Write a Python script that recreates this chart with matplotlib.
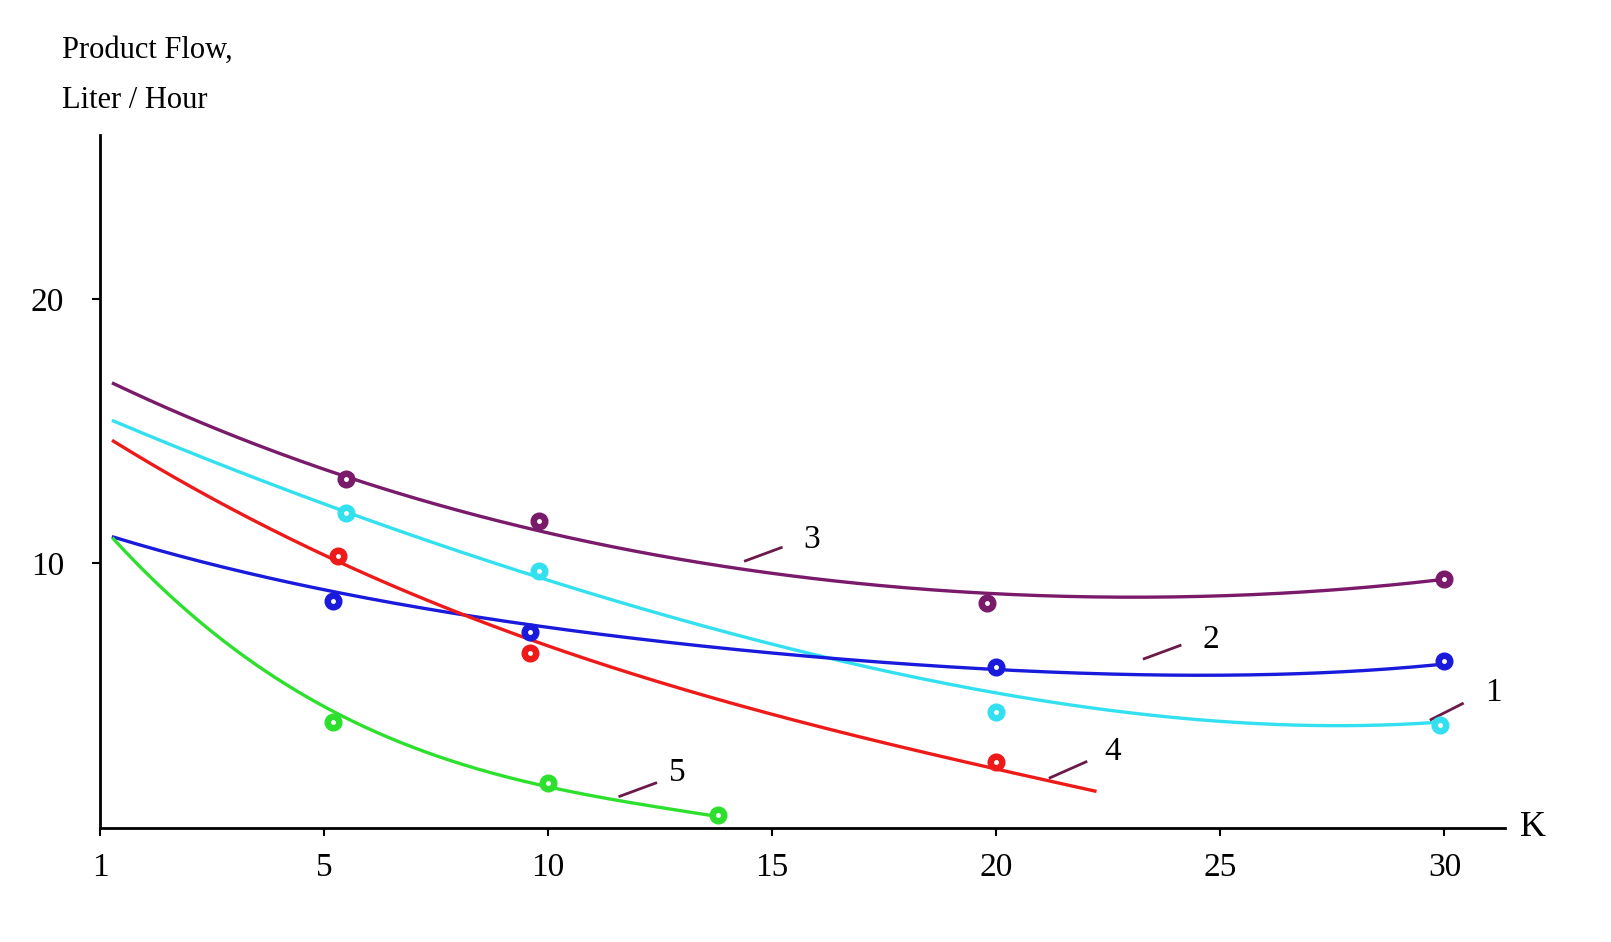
import numpy as np
import matplotlib
matplotlib.use("Agg")
import matplotlib.pyplot as plt

plt.rcParams['font.family'] = ['Liberation Serif', 'DejaVu Serif']

x_ticks = [0, 5, 10, 15, 20, 25, 30]
x_tick_labels = ["1", "5", "10", "15", "20", "25", "30"]
y_ticks = [10, 20]

# measured points
p1_x = [5.5, 9.8, 20.0, 29.9]; p1_y = [11.9, 9.7, 4.4, 3.9]
p2_x = [5.2, 9.6, 20.0, 30.0]; p2_y = [8.6, 7.4, 6.1, 6.3]
p3_x = [5.5, 9.8, 19.8, 30.0]; p3_y = [13.2, 11.6, 8.5, 9.4]
p4_x = [5.3, 9.6, 20.0];       p4_y = [10.3, 6.6, 2.5]
p5_x = [5.2, 10.0, 13.8];      p5_y = [4.0, 1.7, 0.5]

# points
c1_x = [0.3, 5.5, 10, 15, 20, 25, 30];  c1_y = [15.4, 11.9, 9.4, 7.0, 5.0, 4.1, 4.0]
c2_x = [0.3, 5, 10, 15, 20, 23, 30];    c2_y = [11.0, 9.0, 7.6, 6.6, 6.0, 5.8, 6.2]
c3_x = [0.3, 5.5, 10, 15, 20, 25, 30];  c3_y = [16.8, 13.3, 11.1, 9.7, 8.8, 8.8, 9.4]
c4_x = [0.3, 5, 10, 15, 20, 22.2];      c4_y = [14.6, 10.4, 6.8, 4.3, 2.3, 1.35]
c5_x = [0.3, 2, 5, 8, 10, 12, 13.8];    c5_y = [11.0, 8.0, 4.6, 2.6, 1.5, 0.8, 0.5]

colors = {1: '#33e0f0', 2: '#1a1adc', 3: '#7a1a6a', 4: '#ee1a1a', 5: '#2ee02e'}
curves = {1: (c1_x, c1_y, 4), 2: (c2_x, c2_y, 4), 3: (c3_x, c3_y, 4), 4: (c4_x, c4_y, 3), 5: (c5_x, c5_y, 3)}
points = {1: (p1_x, p1_y), 2: (p2_x, p2_y), 3: (p3_x, p3_y), 4: (p4_x, p4_y), 5: (p5_x, p5_y)}

fig = plt.figure(figsize=(16.11, 9.42), dpi=100)
ax = fig.add_axes([100/1611, 114/942, 1405/1611, 693/942])
ax.set_xlim(0, 31.35)
ax.set_ylim(0, 26.2)

for k in [3, 1, 2, 4, 5]:
    cx, cy, deg = curves[k]
    coef = np.polyfit(cx, cy, deg)
    xs = np.linspace(cx[0], cx[-1], 300)
    ax.plot(xs, np.polyval(coef, xs), color=colors[k], lw=2.4, zorder=2)
    px, py = points[k]
    ax.plot(px, py, 'o', color=colors[k], ms=12, zorder=3)
    ax.plot(px, py, 'o', color='white', ms=2.5, zorder=4)

lab_col = '#6b1a4a'
labels = {
    "3": (14.4, 10.1, 15.2, 10.6, 15.7, 10.9),
    "2": (23.3, 6.4, 24.1, 6.9, 24.6, 7.1),
    "1": (29.7, 4.1, 30.4, 4.7, 30.9, 5.1),
    "4": (21.2, 1.9, 22.0, 2.5, 22.4, 2.9),
    "5": (11.6, 1.2, 12.4, 1.7, 12.7, 2.1),
}
for t, (x0, y0, x1, y1, tx, ty) in labels.items():
    ax.plot([x0, x1], [y0, y1], color=lab_col, lw=2, clip_on=False)
    ax.text(tx, ty, t, fontsize=24, va='center', ha='left')

for s in ['top', 'right']:
    ax.spines[s].set_visible(False)
for s in ['left', 'bottom']:
    ax.spines[s].set_linewidth(2)
ax.set_xticks(x_ticks)
ax.set_xticklabels(x_tick_labels)
ax.set_yticks(y_ticks)
ax.tick_params(labelsize=24, width=1.5, length=6)
ax.tick_params(axis='x', pad=12)
ax.tick_params(axis='y', pad=20)

fig.text(1520/1611, 1 - 828/942, "K", fontsize=26, va='center', ha='left')
fig.text(62/1611, 1 - 50/942, "Product Flow,", fontsize=22, va='center')
fig.text(62/1611, 1 - 100/942, "Liter / Hour", fontsize=22, va='center')

fig.savefig("out.png", dpi=100)
